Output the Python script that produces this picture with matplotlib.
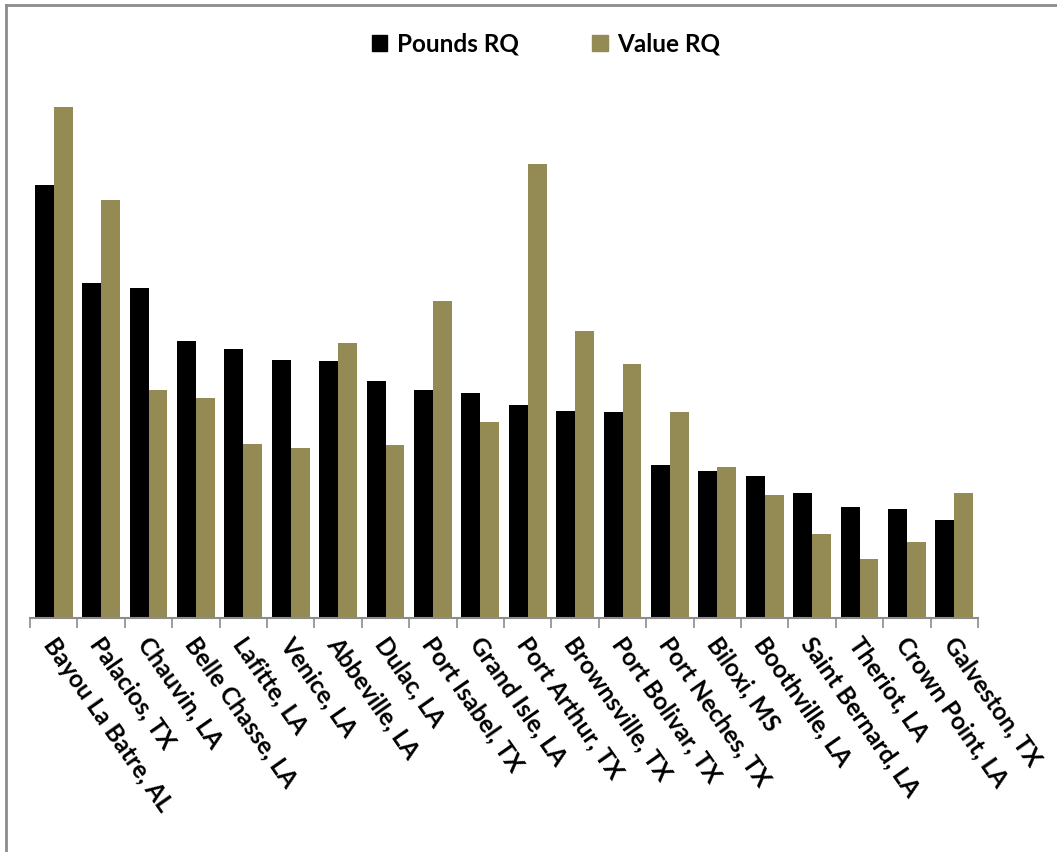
import numpy as np
import matplotlib.pyplot as plt
from matplotlib.lines import Line2D

plt.rcParams['font.family'] = ['Lato', 'DejaVu Sans']

ports = ['Bayou La Batre, AL', 'Palacios, TX', 'Chauvin, LA', 'Belle Chasse, LA',
         'Lafitte, LA', 'Venice, LA', 'Abbeville, LA', 'Dulac, LA', 'Port Isabel, TX',
         'Grand Isle, LA', 'Port Arthur, TX', 'Brownsville, TX', 'Port Bolivar, TX',
         'Port Neches, TX', 'Biloxi, MS', 'Boothville, LA', 'Saint Bernard, LA',
         'Theriot, LA', 'Crown Point, LA', 'Galveston, TX']
pounds_rq = [4.33, 3.35, 3.30, 2.77, 2.69, 2.58, 2.57, 2.37, 2.28, 2.25,
             2.13, 2.07, 2.06, 1.53, 1.47, 1.42, 1.25, 1.11, 1.09, 0.98]
value_rq = [5.11, 4.18, 2.28, 2.20, 1.74, 1.70, 2.75, 1.73, 3.17, 1.96,
            4.54, 2.87, 2.54, 2.06, 1.51, 1.23, 0.84, 0.59, 0.76, 1.25]

black = '#000000'
gold = '#948a54'

fig = plt.figure(figsize=(10.57, 8.52), dpi=100)
ax = fig.add_axes([30/1057, 1 - 618/852, (978-30)/1057, 558/852])

x = np.arange(len(ports))
w = 0.4
ax.bar(x - w/2, pounds_rq, w, color=black, label='Pounds RQ')
ax.bar(x + w/2, value_rq, w, color=gold, label='Value RQ')

ax.set_xlim(-0.5, len(ports) - 0.5)
ax.set_ylim(0, 5.58)
ax.set_yticks([])
for s in ['left', 'right', 'top']:
    ax.spines[s].set_visible(False)
ax.spines['bottom'].set_color('#8c8c8c')
ax.spines['bottom'].set_linewidth(1.5)

ax.set_xticks(np.arange(len(ports) + 1) - 0.5, minor=False)
ax.set_xticklabels([])
ax.tick_params(axis='x', length=7, width=1.2, color='#8c8c8c', direction='out')
for i, p in enumerate(ports):
    ax.text(i - 0.12, -0.22, p, rotation=-55, rotation_mode='anchor',
            ha='left', va='center', fontsize=17.5, fontweight='bold')

handles = [plt.Rectangle((0, 0), 1, 1, color=black),
           plt.Rectangle((0, 0), 1, 1, color=gold)]
fig.legend(handles, ['Pounds RQ', 'Value RQ'], loc='center', ncol=2,
           bbox_to_anchor=(546/1057, 1 - 44/852), frameon=False,
           prop={'weight': 'bold', 'size': 17.5}, handlelength=0.65,
           handleheight=0.65, handletextpad=0.4, columnspacing=3.0)

# chart border
fig.add_artist(Line2D([6/1057, 1], [1 - 5/852, 1 - 5/852], color='#8c8c8c', lw=2))
fig.add_artist(Line2D([6/1057, 6/1057], [0, 1 - 5/852], color='#8c8c8c', lw=2))

fig.savefig('out.png', dpi=100)
